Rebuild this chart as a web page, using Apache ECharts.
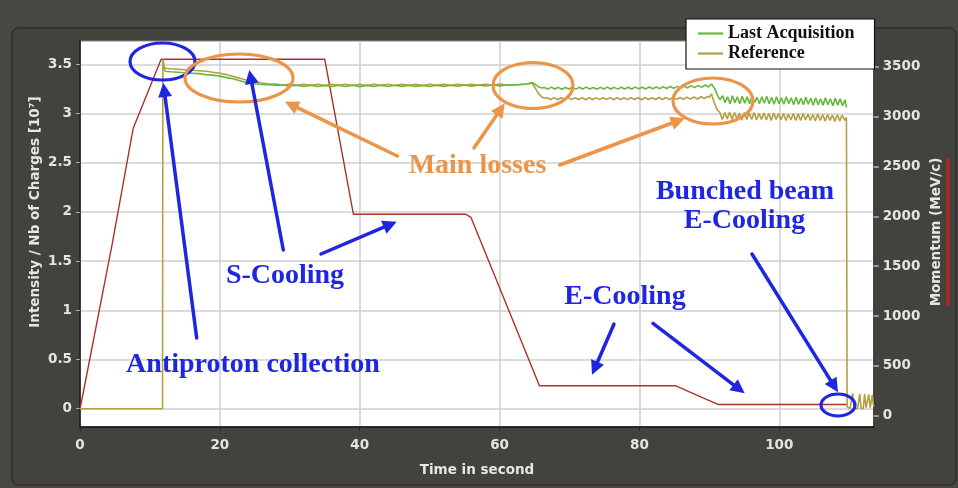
<!DOCTYPE html>
<html>
<head>
<meta charset="utf-8">
<script src="https://cdn.jsdelivr.net/npm/echarts@6/dist/echarts.min.js"></script>
<style>
  html, body { margin: 0; padding: 0; background: #484742; }
  #chart { width: 958px; height: 488px; }
</style>
</head>
<body>
<div id="chart"></div>
<script>
// One AD cycle: stored beam intensity (left axis, 10^7 charges) for the last
// acquisition and the reference cycle, plus the momentum ramp (right axis, MeV/c).

// [time s, momentum MeV/c]
const momentumCycle = [
  [0, 65], [4.6, 1720], [7.6, 2880], [11.6, 3575], [35.0, 3575], [39.1, 2020],
  [55.2, 2020], [55.9, 1990], [65.7, 300], [85.2, 300], [91.3, 112], [109.7, 112]
];

// [time s, intensity 10^7]
const lastAcquisition = [
  [11.9, 3.47], [12.2, 3.43], [13, 3.425], [14, 3.42], [15, 3.415], [16, 3.41], [17, 3.405],
  [18, 3.395], [19, 3.39], [20, 3.38], [21, 3.365], [22, 3.35], [23, 3.33], [24, 3.31],
  [25, 3.30], [26, 3.295], [27, 3.292], [28, 3.289],
  [29, 3.29], [30, 3.278], [31, 3.288], [32, 3.276], [33, 3.287], [34, 3.275], [35, 3.286],
  [36, 3.274], [37, 3.288], [38, 3.275], [39, 3.287], [40, 3.273], [41, 3.286], [42, 3.274],
  [43, 3.287], [44, 3.275], [45, 3.288], [46, 3.276], [47, 3.287], [48, 3.274], [49, 3.286],
  [50, 3.275], [51, 3.288], [52, 3.276], [53, 3.287], [54, 3.277], [55, 3.289], [56, 3.278],
  [57, 3.29], [58, 3.279], [59, 3.29], [60, 3.28], [61, 3.291],
  [62, 3.29], [63, 3.295], [64, 3.30], [64.6, 3.315], [65, 3.30], [65.5, 3.275], [66, 3.26],
  [66.4, 3.265], [66.9, 3.248], [67.4, 3.268], [67.9, 3.25], [68.4, 3.266], [68.9, 3.247],
  [69.4, 3.265], [69.9, 3.249], [70.4, 3.267], [70.9, 3.248], [71.4, 3.266], [71.9, 3.25],
  [72.4, 3.268], [72.9, 3.249], [73.4, 3.265], [73.9, 3.247], [74.4, 3.266], [74.9, 3.25],
  [75.4, 3.268], [75.9, 3.249], [76.4, 3.266], [76.9, 3.248], [77.4, 3.267], [77.9, 3.25],
  [78.4, 3.266], [78.9, 3.249], [79.4, 3.268], [79.9, 3.251], [80.4, 3.267], [80.9, 3.25],
  [81.4, 3.269], [81.9, 3.252], [82.4, 3.27], [82.9, 3.253], [83.4, 3.272], [83.9, 3.255],
  [84.4, 3.274], [84.9, 3.256], [85.4, 3.276], [85.9, 3.258], [86.4, 3.279], [86.9, 3.26],
  [87.4, 3.283], [87.9, 3.263], [88.4, 3.286], [88.9, 3.266], [89.4, 3.29], [89.9, 3.27],
  [90.3, 3.30], [90.8, 3.25], [91.2, 3.18], [91.5, 3.14],
  [91.9, 3.18], [92.25, 3.11], [92.6, 3.17], [92.95, 3.10], [93.3, 3.18], [93.65, 3.11],
  [94.0, 3.17], [94.35, 3.10], [94.7, 3.175], [95.05, 3.105], [95.4, 3.17], [95.75, 3.10],
  [96.1, 3.18], [96.45, 3.11], [96.8, 3.165], [97.15, 3.10], [97.5, 3.17], [97.85, 3.105],
  [98.2, 3.175], [98.55, 3.10], [98.9, 3.165], [99.25, 3.095], [99.6, 3.17], [99.95, 3.10],
  [100.3, 3.16], [100.65, 3.095], [101.0, 3.17], [101.35, 3.10], [101.7, 3.16], [102.05, 3.09],
  [102.4, 3.165], [102.75, 3.095], [103.1, 3.155], [103.45, 3.09], [103.8, 3.165], [104.15, 3.095],
  [104.5, 3.155], [104.85, 3.085], [105.2, 3.16], [105.55, 3.09], [105.9, 3.15], [106.25, 3.085],
  [106.6, 3.16], [106.95, 3.09], [107.3, 3.15], [107.65, 3.08], [108.0, 3.155], [108.35, 3.085],
  [108.7, 3.15], [109.05, 3.08], [109.4, 3.14], [109.6, 3.06]
];

// [time s, intensity 10^7]
const referenceCycle = [
  [0, 0], [11.8, 0], [11.85, 3.55], [12.1, 3.46], [13, 3.455], [14, 3.45], [15, 3.445],
  [16, 3.44], [17, 3.435], [18, 3.43], [19, 3.42], [20, 3.41], [21, 3.395], [22, 3.375],
  [23, 3.355], [24, 3.335], [25, 3.32], [26, 3.31], [27, 3.30],
  [28, 3.30], [29, 3.288], [30, 3.299], [31, 3.287], [32, 3.298], [33, 3.286], [34, 3.297],
  [35, 3.285], [36, 3.297], [37, 3.286], [38, 3.298], [39, 3.285], [40, 3.296], [41, 3.284],
  [42, 3.297], [43, 3.286], [44, 3.298], [45, 3.285], [46, 3.297], [47, 3.286], [48, 3.296],
  [49, 3.285], [50, 3.297], [51, 3.286], [52, 3.298], [53, 3.287], [54, 3.297], [55, 3.286],
  [56, 3.298], [57, 3.287], [58, 3.298], [59, 3.288], [60, 3.299], [61, 3.289],
  [62, 3.29], [63, 3.295], [64, 3.30], [64.6, 3.31], [65.0, 3.27], [65.5, 3.21], [66.0, 3.17],
  [66.4, 3.155],
  [66.8, 3.16], [67.3, 3.142], [67.8, 3.162], [68.3, 3.14], [68.8, 3.16], [69.3, 3.143],
  [69.8, 3.161], [70.3, 3.141], [70.8, 3.16], [71.3, 3.142], [71.8, 3.162], [72.3, 3.14],
  [72.8, 3.16], [73.3, 3.143], [73.8, 3.161], [74.3, 3.141], [74.8, 3.16], [75.3, 3.142],
  [75.8, 3.162], [76.3, 3.14], [76.8, 3.161], [77.3, 3.142], [77.8, 3.16], [78.3, 3.141],
  [78.8, 3.162], [79.3, 3.142], [79.8, 3.16], [80.3, 3.14], [80.8, 3.162], [81.3, 3.143],
  [81.8, 3.161], [82.3, 3.142], [82.8, 3.163], [83.3, 3.143], [83.8, 3.162], [84.3, 3.142],
  [84.8, 3.164], [85.3, 3.144], [85.8, 3.163], [86.3, 3.145], [86.8, 3.166], [87.3, 3.146],
  [87.8, 3.168], [88.3, 3.148], [88.8, 3.17], [89.3, 3.152], [89.7, 3.175], [90.0, 3.165],
  [90.3, 3.20], [90.7, 3.11], [91.1, 3.04],
  [91.5, 3.01], [91.85, 2.94], [92.2, 3.01], [92.55, 2.945], [92.9, 3.015], [93.25, 2.94],
  [93.6, 3.01], [93.95, 2.945], [94.3, 3.005], [94.65, 2.935], [95.0, 3.01], [95.35, 2.94],
  [95.7, 3.005], [96.05, 2.94], [96.4, 3.01], [96.75, 2.935], [97.1, 3.0], [97.45, 2.94],
  [97.8, 3.005], [98.15, 2.935], [98.5, 3.0], [98.85, 2.93], [99.2, 3.005], [99.55, 2.94],
  [99.9, 3.0], [100.25, 2.935], [100.6, 3.0], [100.95, 2.93], [101.3, 2.995], [101.65, 2.935],
  [102.0, 3.0], [102.35, 2.93], [102.7, 2.995], [103.05, 2.93], [103.4, 3.0], [103.75, 2.935],
  [104.1, 2.995], [104.45, 2.93], [104.8, 2.99], [105.15, 2.925], [105.5, 2.995], [105.85, 2.93],
  [106.2, 2.99], [106.55, 2.925], [106.9, 2.99], [107.25, 2.93], [107.6, 2.985], [107.95, 2.92],
  [108.3, 2.99], [108.65, 2.925], [109.0, 2.985], [109.35, 2.93], [109.6, 2.96], [109.7, 0.02],
  [110.1, 0.0], [110.5, 0.155], [110.7, 0.01], [111.2, 0.0], [111.5, 0.15], [111.7, 0.005],
  [112.0, 0.0], [112.2, 0.15], [112.4, 0.01], [112.6, 0.0], [112.8, 0.145], [113.0, 0.01],
  [113.1, 0.0], [113.3, 0.14], [113.5, 0.02]
];

const seriesNames = ['Last Acquisition', 'Reference', 'Momentum'];

// ---- annotation overlay ----
const BLUE = '#1f26e0';
const ORANGE = '#ec9448';
const annoFont = 'bold 28px "Liberation Serif", serif';

function arrow(x1, y1, x2, y2, color) {
  const dx = x2 - x1, dy = y2 - y1, L = Math.hypot(dx, dy);
  const ux = dx / L, uy = dy / L, hl = 14, hw = 7;
  const bx = x2 - ux * hl, by = y2 - uy * hl;
  return [
    { type: 'line', z: 100, shape: { x1: x1, y1: y1, x2: bx + ux * 2, y2: by + uy * 2 },
      style: { stroke: color, lineWidth: 3.5, lineCap: 'round' } },
    { type: 'polygon', z: 100,
      shape: { points: [[x2, y2], [bx - uy * hw, by + ux * hw], [bx + uy * hw, by - ux * hw]] },
      style: { fill: color } }
  ];
}
function ring(cx, cy, rx, ry, color) {
  return { type: 'ellipse', z: 100, shape: { cx: cx, cy: cy, rx: rx, ry: ry },
    style: { fill: 'none', stroke: color, lineWidth: 3.2 } };
}
function label(text, x, y, color) {
  return { type: 'text', z: 100, x: x, y: y,
    style: { text: text, fill: color, font: annoFont, align: 'center', verticalAlign: 'middle',
      textAlign: 'center', textVerticalAlign: 'middle' } };
}

const overlay = [].concat(
  [
    { type: 'rect', z: -100, shape: { x: 12, y: 28, width: 944, height: 457, r: 7 },
      style: { fill: '#43433e', stroke: '#2f2f2b', lineWidth: 1.5 } },
    { type: 'text', z: 50, x: 35, y: 212, rotation: Math.PI / 2,
      style: { text: 'Intensity / Nb of Charges [10⁷]', fill: '#e6e6e6',
        font: 'bold 13.5px "DejaVu Sans", sans-serif', align: 'center', verticalAlign: 'middle',
        textAlign: 'center', textVerticalAlign: 'middle' } },
    { type: 'text', z: 50, x: 936, y: 232, rotation: Math.PI / 2,
      style: { text: 'Momentum (MeV/c)', fill: '#e6e6e6',
        font: 'bold 13.5px "DejaVu Sans", sans-serif', align: 'center', verticalAlign: 'middle',
        textAlign: 'center', textVerticalAlign: 'middle' } },
    { type: 'rect', z: 50, shape: { x: 946, y: 158, width: 3.5, height: 148 },
      style: { fill: '#b0281f' } },
    { type: 'text', z: 50, x: 477, y: 470,
      style: { text: 'Time in second', fill: '#e6e6e6',
        font: 'bold 13.5px "DejaVu Sans", sans-serif', align: 'center', verticalAlign: 'middle',
        textAlign: 'center', textVerticalAlign: 'middle' } }
  ],
  [
    ring(162.5, 61.5, 32.5, 18.5, BLUE),
    ring(838, 405, 17, 11, BLUE),
    ring(239, 78, 54, 24, ORANGE),
    ring(533, 85.5, 40, 23, ORANGE),
    ring(713, 101, 40, 23, ORANGE)
  ],
  arrow(196.7, 338, 163.3, 83, BLUE),
  arrow(283.3, 250, 249.3, 70, BLUE),
  arrow(321, 254, 396.7, 221.7, BLUE),
  arrow(614, 324, 592, 374.7, BLUE),
  arrow(653, 323.3, 744.7, 393.3, BLUE),
  arrow(752, 254, 838, 392.3, BLUE),
  arrow(397.3, 156, 285, 101.7, ORANGE),
  arrow(474, 148, 504.7, 103.3, ORANGE),
  arrow(559.7, 165, 684.7, 118.3, ORANGE),
  [
    label('Main losses', 477.5, 165.5, ORANGE),
    label('Antiproton collection', 253, 365, BLUE),
    label('S-Cooling', 285, 276, BLUE),
    label('E-Cooling', 625, 297, BLUE),
    label('Bunched beam', 745, 192, BLUE),
    label('E-Cooling', 744.5, 220.5, BLUE)
  ]
);

const tickFont = { color: '#e4e4e4', fontWeight: 'bold', fontSize: 13.5, fontFamily: 'DejaVu Sans' };
const plainNumber = function (v) { return String(v); };

const chart = echarts.init(document.getElementById('chart'), null, { renderer: 'canvas' });
chart.setOption({
  backgroundColor: '#484742',
  animation: false,
  grid: {
    left: 80, right: 84.3, top: 41, bottom: 61.3,
    containLabel: false, outerBoundsMode: 'none',
    show: true, backgroundColor: '#ffffff', borderColor: '#8a8a8a', borderWidth: 1
  },
  legend: {
    data: seriesNames.slice(0, 2),
    orient: 'vertical', left: 686, top: 19,
    padding: [5, 20, 6, 12], itemGap: 1,
    icon: 'rect', itemWidth: 25, itemHeight: 2.2,
    backgroundColor: '#ffffff', borderColor: '#111', borderWidth: 1.2, borderRadius: 0,
    selectedMode: false,
    textStyle: { fontFamily: 'Liberation Serif', fontWeight: 'bold', fontSize: 18, color: '#111',
      lineHeight: 19 }
  },
  xAxis: {
    type: 'value', min: 0, max: 113.5, interval: 20,
    axisLine: { show: true, onZero: false, lineStyle: { color: '#111', width: 1.5 } },
    axisTick: { show: true, length: 4, lineStyle: { color: '#222' } },
    axisLabel: Object.assign({ margin: 12, showMaxLabel: false, formatter: plainNumber }, tickFont),
    splitLine: { show: true, showMinLine: false, showMaxLine: false,
      lineStyle: { color: '#cfcfcf', width: 1.5 } }
  },
  yAxis: [
    {
      type: 'value', min: -0.183, max: 3.737, splitNumber: 8, position: 'left',
      axisLine: { show: true, onZero: false, lineStyle: { color: '#111', width: 1.5 } },
      axisTick: { show: true, length: 4, lineStyle: { color: '#aaa' } },
      axisLabel: Object.assign({ margin: 8, showMinLabel: false, showMaxLabel: false,
        formatter: plainNumber }, tickFont),
      splitLine: { show: true, showMinLine: false, showMaxLine: false,
        lineStyle: { color: '#cfcfcf', width: 1.5 } }
    },
    {
      type: 'value', min: -110, max: 3758, splitNumber: 8, position: 'right',
      axisLine: { show: true, onZero: false, lineStyle: { color: '#333', width: 1.5 } },
      axisTick: { show: true, length: 5, lineStyle: { color: '#bbb', width: 1.5 } },
      axisLabel: Object.assign({ margin: 9, showMinLabel: false, showMaxLabel: false,
        formatter: plainNumber }, tickFont),
      splitLine: { show: false }
    }
  ],
  series: [
    {
      name: seriesNames[2], type: 'line', yAxisIndex: 1, data: momentumCycle,
      symbol: 'none', silent: true,
      lineStyle: { color: '#a8342a', width: 1.4 }, itemStyle: { color: '#a8342a' }
    },
    {
      name: seriesNames[1], type: 'line', yAxisIndex: 0, data: referenceCycle,
      symbol: 'none', silent: true, sampling: null,
      lineStyle: { color: '#b3a040', width: 1.6 }, itemStyle: { color: '#b3a040' }
    },
    {
      name: seriesNames[0], type: 'line', yAxisIndex: 0, data: lastAcquisition,
      symbol: 'none', silent: true, sampling: null,
      lineStyle: { color: '#66b83c', width: 1.6 }, itemStyle: { color: '#66b83c' }
    }
  ],
  graphic: { elements: overlay }
});
</script>
</body>
</html>
